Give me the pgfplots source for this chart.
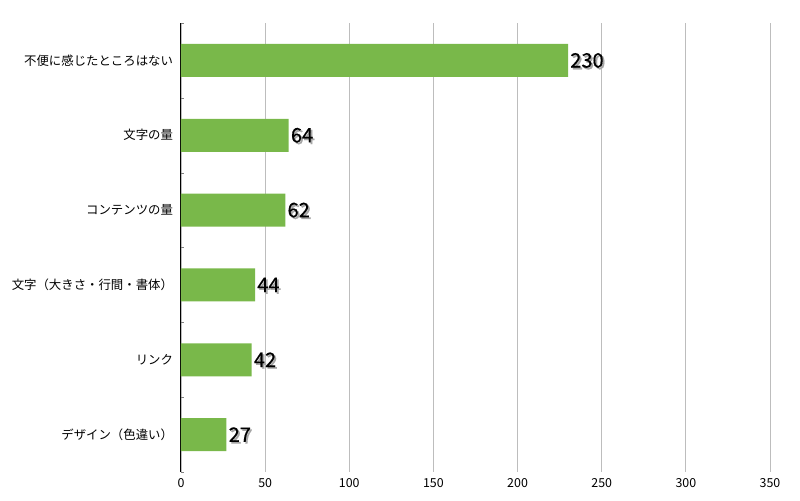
\documentclass[border=0pt]{standalone}
\usepackage{pgfplots}
\pgfplotsset{compat=1.18}
\usepackage{fontspec}
\setmainfont{Noto Sans CJK JP}
\newfontfamily\numfont[FakeBold=0.6]{Noto Sans CJK JP}
\definecolor{barg}{HTML}{79B84A}
\definecolor{gridg}{HTML}{BDBDBD}
\begin{document}
\begin{tikzpicture}
\path[use as bounding box] (0,0) rectangle (600pt,375pt);
\begin{axis}[
  at={(135.75pt,21pt)}, anchor=south west,
  scale only axis,
  width=441.75pt, height=336.75pt,
  xbar, bar width=24.75pt,
  xmin=0, xmax=350,
  ymin=-0.5, ymax=5.5, y dir=reverse,
  xtick={0,50,...,350},
  ytick={0,1,2,3,4,5},
  yticklabels={不便に感じたところはない,文字の量,コンテンツの量,文字（大きさ・行間・書体）,リンク,デザイン（色違い）},
  minor ytick={-0.5,0.5,...,5.5},
  minor tick length=2pt,
  major tick length=0pt,
  tick align=inside,
  axis lines*=left,
  x axis line style={draw=none},
  y axis line style={black, line width=0.75pt},
  xmajorgrids,
  major grid style={gridg, line width=0.7pt},
  tick label style={font=\fontsize{9.3pt}{11pt}\selectfont, black},
  /pgf/number format/assume math mode=true,
  yticklabel style={xshift=-2.5pt},
  xticklabel style={yshift=-1pt},
  nodes near coords,
  every node near coord/.append style={font=\fontsize{15pt}{17pt}\numfont, anchor=west, inner xsep=1.5pt},
]
\addplot[draw=none, fill=none, bar shift=0pt,
  every node near coord/.append style={text=black!35, xshift=1.3pt, yshift=-1.3pt}]
  coordinates {(230,0) (64,1) (62,2) (44,3) (42,4) (27,5)};
\addplot[draw=none, fill=barg, bar shift=0pt,
  every node near coord/.append style={text=black}]
  coordinates {(230,0) (64,1) (62,2) (44,3) (42,4) (27,5)};
\end{axis}
\end{tikzpicture}
\end{document}
